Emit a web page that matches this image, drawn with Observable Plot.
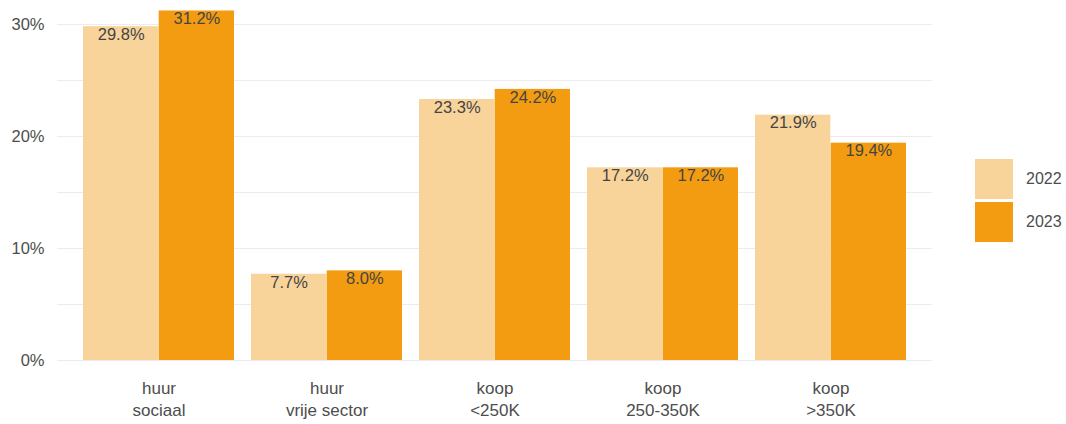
<!DOCTYPE html>
<html>
<head>
<meta charset="utf-8">
<script src="https://cdn.jsdelivr.net/npm/d3@7"></script>
<script src="https://cdn.jsdelivr.net/npm/@observablehq/plot@0.6"></script>
<style>
  html, body { margin: 0; padding: 0; background: #fff; }
  #wrap { position: relative; width: 1066px; height: 424px; font-family: "Liberation Sans", Arial, sans-serif; }
  #legend { position: absolute; left: 975px; top: 157px; }
  .item { display: flex; align-items: center; height: 43px; }
  .sw { width: 38px; height: 40px; margin-right: 13px; }
  .lab { font-size: 16px; color: #4d4d4d; }
</style>
</head>
<body>
<div id="wrap"><div id="chart"></div><div id="legend"></div></div>
<script>
const categories = ["huur sociaal", "huur vrije sector", "koop <250K", "koop 250-350K", "koop >350K"];
const categoryLabels = ["huur\nsociaal", "huur\nvrije sector", "koop\n<250K", "koop\n250-350K", "koop\n>350K"];
const years = ["2022", "2023"];
const values2022 = [29.8, 7.7, 23.3, 17.2, 21.9];
const values2023 = [31.2, 8.0, 24.2, 17.2, 19.4];
const colors = ["#F8D49B", "#F39C12"];
const gridValues = [0, 5, 10, 15, 20, 25, 30];
const yTicks = [0, 10, 20, 30];

const d2022 = categories.map((c, i) => ({cat: c, year: years[0], value: values2022[i]}));
const d2023 = categories.map((c, i) => ({cat: c, year: years[1], value: values2023[i]}));
const labelOf = new Map(categories.map((c, i) => [c, categoryLabels[i]]));

const width = 1066, marginLeft = 57, marginRight = 134;
const xScale = d3.scaleBand().domain(categories).range([marginLeft, width - marginRight]).paddingInner(0.1).paddingOuter(0.151);
const half = xScale.bandwidth() / 2;

const chart = Plot.plot({
  width,
  height: 424,
  marginLeft,
  marginRight,
  marginTop: 6,
  marginBottom: 64,
  style: {fontFamily: '"Liberation Sans", Arial, sans-serif', fontSize: "16px", color: "#4d4d4d", background: "#fff"},
  x: {domain: categories, paddingInner: 0.1, paddingOuter: 0.151, label: null},
  y: {domain: [0, 31.6], label: null},
  marks: [
    Plot.ruleY(gridValues, {stroke: "#ebebeb", strokeWidth: 1}),
    Plot.barY(d2022, {x: "cat", y: "value", fill: colors[0], insetRight: half}),
    Plot.barY(d2023, {x: "cat", y: "value", fill: colors[1], insetLeft: half}),
    Plot.text(d2022, {x: "cat", y: "value", text: d => d.value.toFixed(1) + "%", dx: -half / 2, dy: 8, fill: "#444", fontSize: 16.5}),
    Plot.text(d2023, {x: "cat", y: "value", text: d => d.value.toFixed(1) + "%", dx: half / 2, dy: 8, fill: "#444", fontSize: 16.5}),
    Plot.axisY({ticks: yTicks, tickFormat: d => d + "%", tickSize: 0, tickPadding: 13, fontSize: 16.5, fill: "#4d4d4d", label: null}),
    Plot.axisX({tickFormat: d => labelOf.get(d), tickSize: 0, tickPadding: 18, fontSize: 17, fill: "#4d4d4d", lineHeight: 1.3, label: null})
  ]
});
document.getElementById("chart").appendChild(chart);

const legend = document.getElementById("legend");
years.forEach((y, i) => {
  const item = document.createElement("div");
  item.className = "item";
  item.innerHTML = `<div class="sw" style="background:${colors[i]}"></div><span class="lab">${y}</span>`;
  legend.appendChild(item);
});
</script>
</body>
</html>
